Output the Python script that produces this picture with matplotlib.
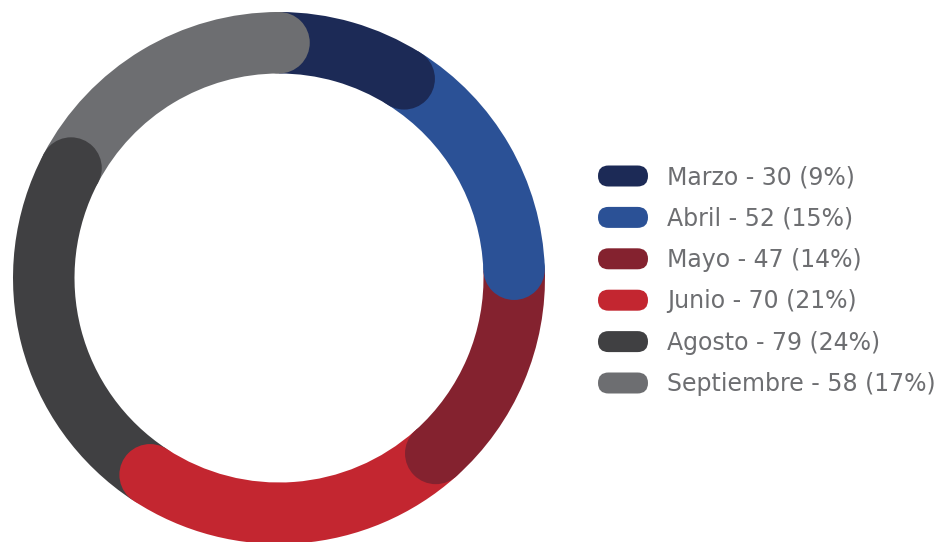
import numpy as np
import matplotlib
matplotlib.use("Agg")
import matplotlib.pyplot as plt
from matplotlib.patches import Circle, FancyBboxPatch

# monthly counts
months = ["Marzo", "Abril", "Mayo", "Junio", "Agosto", "Septiembre"]
counts = [30, 52, 47, 70, 79, 58]
colors = ["#1c2a56", "#2b5196", "#84222f", "#c32630", "#404042", "#6d6e71"]

W, H = 940, 542
fig = plt.figure(figsize=(W / 100, H / 100), dpi=100)

# donut axes: 540px square, 1 unit = 270px, centred at (279, 278)
cx, cy, half = 279, 278, 270
ax = fig.add_axes([(cx - half) / W, (H - cy - half) / H, 2 * half / W, 2 * half / H])

R = 266 / half
ring = 61.5 / half
ax.pie(counts, colors=colors, startangle=90, counterclock=False,
       radius=R, wedgeprops=dict(width=ring, linewidth=0))
ax.set_xlim(-1, 1)
ax.set_ylim(-1, 1)
ax.set_aspect("equal")
ax.axis("off")

# rounded end cap for each segment, laid over the start of the next one
total = sum(counts)
ends = np.cumsum(counts) / total * 2 * np.pi
rm = R - ring / 2
for a, c in zip(ends, colors):
    ax.add_patch(Circle((rm * np.sin(a), rm * np.cos(a)), ring / 2,
                        facecolor=c, edgecolor="none", zorder=5))

# legend drawn in pixel coordinates
lg = fig.add_axes([0, 0, 1, 1])
lg.set_xlim(0, W)
lg.set_ylim(H, 0)
lg.axis("off")
row_y = np.linspace(176, 383, len(months))
pill_w, pill_h = 50, 21
for name, v, c, y in zip(months, counts, colors, row_y):
    lg.add_patch(FancyBboxPatch((598, y - pill_h / 2), pill_w, pill_h,
                                boxstyle=f"round,pad=0,rounding_size={pill_h / 2}",
                                facecolor=c, edgecolor="none"))
    pct = round(v / total * 100)
    lg.text(667, y + 1, f"{name} - {v} ({pct}%)", fontsize=17, color="#6d6e71",
            family="DejaVu Sans", va="center", ha="left")

fig.savefig("out.png", dpi=100)
